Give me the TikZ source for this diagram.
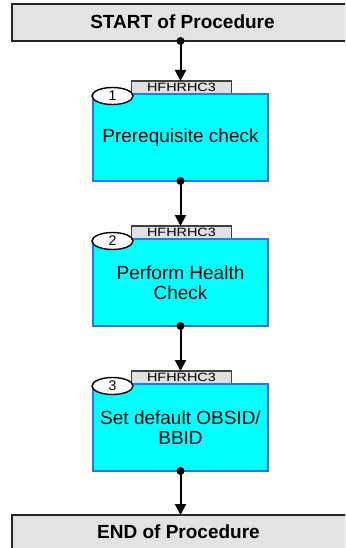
\documentclass[tikz,border=0pt]{standalone}
\usepackage{fontspec}
\setmainfont{Liberation Sans}
\usetikzlibrary{shapes.geometric,arrows.meta}

\definecolor{termfill}{HTML}{E3E3E3}
\definecolor{termline}{HTML}{262626}
\definecolor{stepfill}{HTML}{00FFFF}
\definecolor{stepline}{HTML}{3A6BFF}
\definecolor{tagfill}{HTML}{E0E0E0}
\definecolor{tagline}{HTML}{404040}

\tikzset{
  termbox/.style={draw=termline, line width=2pt, fill=termfill,
    minimum width=341pt, minimum height=37pt, inner sep=0pt, outer sep=0pt},
  termtext/.style={font=\fontsize{19}{21}\selectfont\bfseries, inner sep=0pt},
  stepbox/.style={draw=stepline, line width=1.2pt, fill=stepfill,
    minimum width=175pt, minimum height=87pt, inner sep=0pt, outer sep=0pt,
    align=center, font=\fontsize{19}{20.5}\selectfont},
  tagbox/.style={draw=tagline, line width=1.2pt, fill=tagfill,
    minimum width=100pt, minimum height=13pt, inner sep=0pt, outer sep=0pt,
    font=\fontsize{12}{12}\selectfont},
  numoval/.style={ellipse, draw, line width=1.4pt, fill=white,
    minimum width=41pt, minimum height=17pt, inner sep=0pt,
    font=\fontsize{14}{14}\selectfont},
  dot/.style={circle, fill=black, inner sep=0pt, minimum size=8pt},
  link/.style={-{Triangle[length=11pt,width=11pt]}, line width=2pt}
}

\begin{document}
\begin{tikzpicture}[x=1pt, y=-1pt]
  \clip (0,0) rectangle (345,548);
  \useasboundingbox (0,0) rectangle (345,548);

  % start and end terminals
  \node[termbox] (startbox) at (182.5,22.5) {};
  \node[termtext] (starttext) at (182.5,22) {START of Procedure};
  \node[termbox] (endbox) at (182.5,533.5) {};
  \node[termtext] (endtext) at (178.5,532) {END of Procedure};

  % the three steps: tag, body, number
  \node[tagbox] (tag1) at (181.5,87.5) {\scalebox{1.2}[1]{HFHRHC3}};
  \node[stepbox] (step1) at (180.5,137.5) {Prerequisite check};
  \node[numoval] (num1) at ([xshift=19.5pt,yshift=-2pt]step1.north west) {1};

  \node[tagbox] (tag2) at (181.5,232.5) {\scalebox{1.2}[1]{HFHRHC3}};
  \node[stepbox] (step2) at (180.5,282.5) {Perform Health\\Check};
  \node[numoval] (num2) at ([xshift=19.5pt,yshift=-2pt]step2.north west) {2};

  \node[tagbox] (tag3) at (181.5,377.5) {\scalebox{1.2}[1]{HFHRHC3}};
  \node[stepbox] (step3) at (180.5,427.5) {Set default OBSID/\\BBID};
  \node[numoval] (num3) at ([xshift=19.5pt,yshift=-2pt]step3.north west) {3};

  % connectors
  \node[dot] (d0) at (startbox.south -| step1.south) {};
  \node[dot] (d1) at (step1.south) {};
  \node[dot] (d2) at (step2.south) {};
  \node[dot] (d3) at (step3.south) {};

  \draw[link] (d0.center) -- (d0.center |- tag1.north);
  \draw[link] (d1.center) -- (d1.center |- tag2.north);
  \draw[link] (d2.center) -- (d2.center |- tag3.north);
  \draw[link] (d3.center) -- (d3.center |- endbox.north);
\end{tikzpicture}
\end{document}
